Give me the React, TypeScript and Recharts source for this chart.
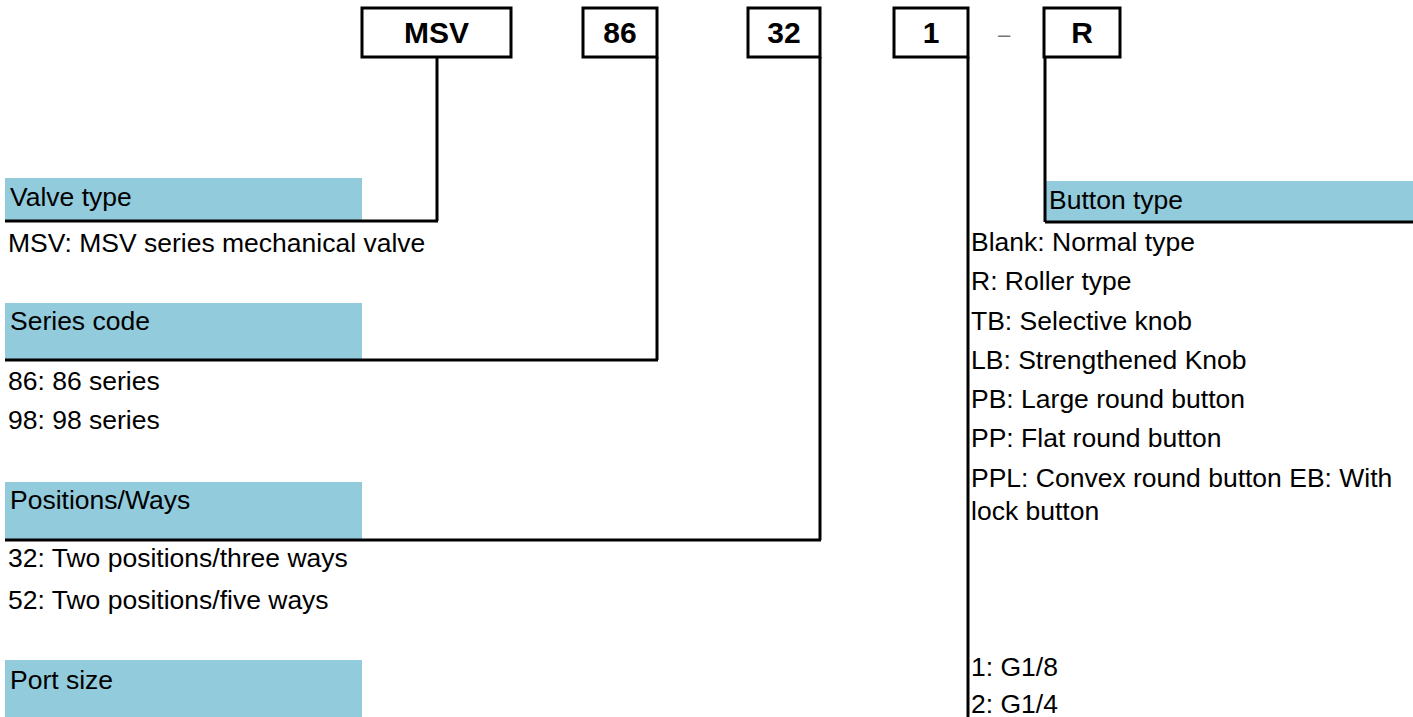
import {
    ScatterChart,
    Scatter,
    XAxis,
    YAxis,
    ReferenceArea,
    ReferenceLine
} from "recharts";

// model code parts, left to right
const codes = ["MSV", "86", "32", "1", "R"];
const codeBoxLeft = [362, 583, 748, 894, 1044];
const codeBoxRight = [511, 657, 820, 968, 1120];

// group titles (blue bars)
const groupTitles = ["Valve type", "Series code", "Positions/Ways", "Port size", "Button type"];
const barTop = [178, 303, 482, 660, 181];
const barBottom = [220, 359, 540, 717, 221];
const barLeft = [5, 5, 5, 5, 1045];
const barRight = [362, 362, 362, 362, 1413];
const titleY = [206, 330, 509, 689, 209];

// options under each group
const valveOptions = ["MSV: MSV series mechanical valve"];
const seriesOptions = ["86: 86 series", "98: 98 series"];
const wayOptions = ["32: Two positions/three ways", "52: Two positions/five ways"];
const buttonOptions = [
    "Blank: Normal type",
    "R: Roller type",
    "TB: Selective knob",
    "LB: Strengthened Knob",
    "PB: Large round button",
    "PP: Flat round button",
    "PPL: Convex round button EB: With",
    "lock button"
];
const portOptions = ["1: G1/8", "2: G1/4"];

// baselines of the option lines
const valveY = [252];
const seriesY = [390, 429];
const wayY = [567, 609];
const buttonY = [251, 290, 330, 369, 408, 447, 487, 520];
const portY = [676, 713];

// leader lines: [x1, y1, x2, y2]
const leaders = [
    [437, 57, 437, 221],
    [5, 221, 438, 221],
    [657, 57, 657, 360],
    [5, 360, 658, 360],
    [820, 57, 820, 540],
    [5, 540, 821, 540],
    [968, 57, 968, 717],
    [1045, 57, 1045, 222],
    [1045, 222, 1413, 222]
];

const W = 1413;
const H = 717;
const FONT = "'Liberation Sans', Arial, sans-serif";

type T = { x: number; y: number; text: string; bold?: boolean; size?: number; color?: string; anchor?: string };

const texts: T[] = [
    ...codes.map((c, i) => ({
        x: (codeBoxLeft[i] + codeBoxRight[i]) / 2,
        y: 43,
        text: c,
        bold: true,
        size: 30,
        anchor: "middle"
    })),
    {x: 1004, y: 42, text: "–", size: 22, color: "#777", anchor: "middle"},
    ...groupTitles.map((g, i) => ({
        x: barLeft[i] + (i === 4 ? 4 : 5),
        y: titleY[i],
        text: g
    })),
    ...valveOptions.map((t, i) => ({x: 8, y: valveY[i], text: t})),
    ...seriesOptions.map((t, i) => ({x: 8, y: seriesY[i], text: t})),
    ...wayOptions.map((t, i) => ({x: 8, y: wayY[i], text: t})),
    ...buttonOptions.map((t, i) => ({x: 971, y: buttonY[i], text: t})),
    ...portOptions.map((t, i) => ({x: 971, y: portY[i], text: t}))
];

const TextMark = (p: any) => {
    const d: T = p.payload;
    return (
        <text
            x={p.cx}
            y={p.cy}
            textAnchor={d.anchor || "start"}
            fontFamily={FONT}
            fontSize={d.size || 26.5}
            fontWeight={d.bold ? 700 : 400}
            fill={d.color || "#000"}
        >
            {d.text}
        </text>
    );
};

export default function App() {
    return (
        <div style={{position: "absolute", left: 0, top: 0, background: "#fff"}}>
            <ScatterChart width={W} height={H} margin={{top: 0, right: 0, bottom: 0, left: 0}}>
                <XAxis type="number" dataKey="x" domain={[0, W]} hide allowDataOverflow/>
                <YAxis type="number" dataKey="y" domain={[0, H]} reversed hide allowDataOverflow/>

                {groupTitles.map((g, i) => (
                    <ReferenceArea
                        key={g}
                        x1={barLeft[i]}
                        x2={barRight[i]}
                        y1={barTop[i]}
                        y2={barBottom[i]}
                        fill="#92cbdc"
                        fillOpacity={1}
                        stroke="none"
                        ifOverflow="visible"
                    />
                ))}

                {leaders.map((l, i) => (
                    <ReferenceLine
                        key={i}
                        segment={[{x: l[0], y: l[1]}, {x: l[2], y: l[3]}]}
                        stroke="#000"
                        strokeWidth={3}
                        ifOverflow="visible"
                    />
                ))}

                {codes.map((c, i) => (
                    <ReferenceArea
                        key={c}
                        x1={codeBoxLeft[i]}
                        x2={codeBoxRight[i]}
                        y1={8}
                        y2={57}
                        fill="#fff"
                        fillOpacity={1}
                        stroke="#000"
                        strokeWidth={3}
                        ifOverflow="visible"
                    />
                ))}

                <Scatter data={texts} shape={TextMark} isAnimationActive={false}/>
            </ScatterChart>
        </div>
    );
}
